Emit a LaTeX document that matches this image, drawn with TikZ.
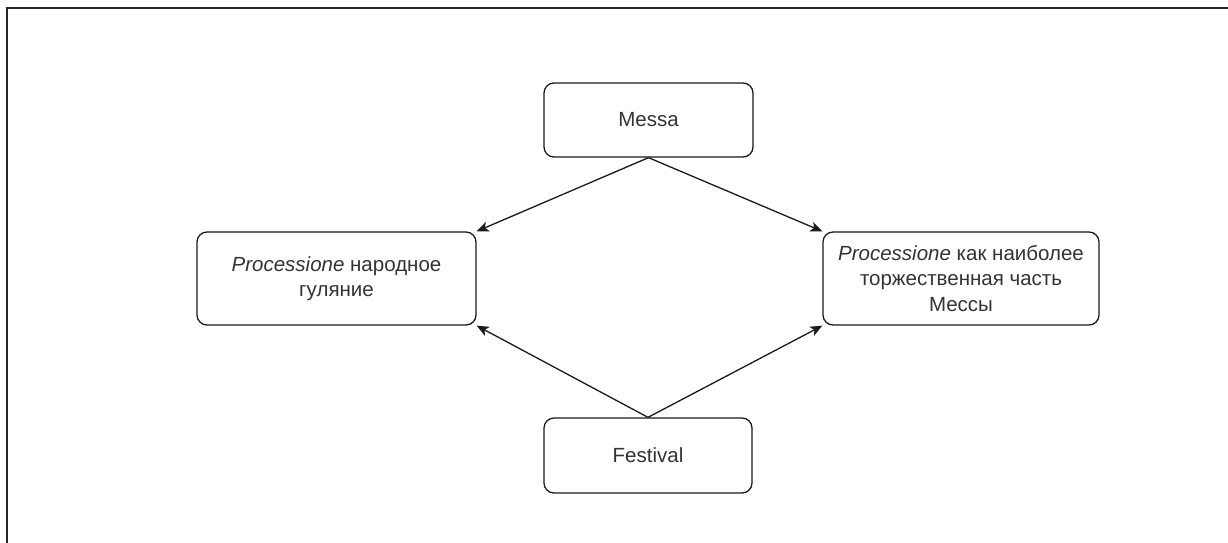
\documentclass[tikz,border=0pt]{standalone}
\usepackage{fontspec}
\setmainfont{Liberation Sans}
\usetikzlibrary{arrows.meta}
\definecolor{txt}{HTML}{333333}
\definecolor{edge}{HTML}{1A1A1A}
\begin{document}
\begin{tikzpicture}[x=1pt,y=-1pt,
  box/.style={draw=edge, rounded corners=10pt, line width=1.3pt, align=center,
    font=\fontsize{20.5}{25.5}\selectfont, text=txt, inner sep=0pt},
  conn/.style={draw=edge, line width=1.3pt, -{Stealth[length=12pt,width=10pt,inset=3pt]}}]
\useasboundingbox (0,0) rectangle (1228,543);
\draw[line width=2pt, color=black!85] (7,543) -- (7,8) -- (1228,8);
\node[box, minimum width=209pt, minimum height=74pt] (M) at (648.5,120) {Messa};
\node[box, minimum width=279pt, minimum height=93pt] (L) at (336.5,278.5) {\textit{Processione} народное\\гуляние};
\node[box, minimum width=276pt, minimum height=93pt] (R) at (961,278.5) {\textit{Processione} как наиболее\\торжественная часть\\Мессы};
\node[box, minimum width=208pt, minimum height=75pt] (F) at (648,455.5) {Festival};
\draw[conn] (M.south) -- (L.north east);
\draw[conn] (M.south) -- (R.north west);
\draw[conn] (F.north) -- (L.south east);
\draw[conn] (F.north) -- (R.south west);
\end{tikzpicture}
\end{document}
